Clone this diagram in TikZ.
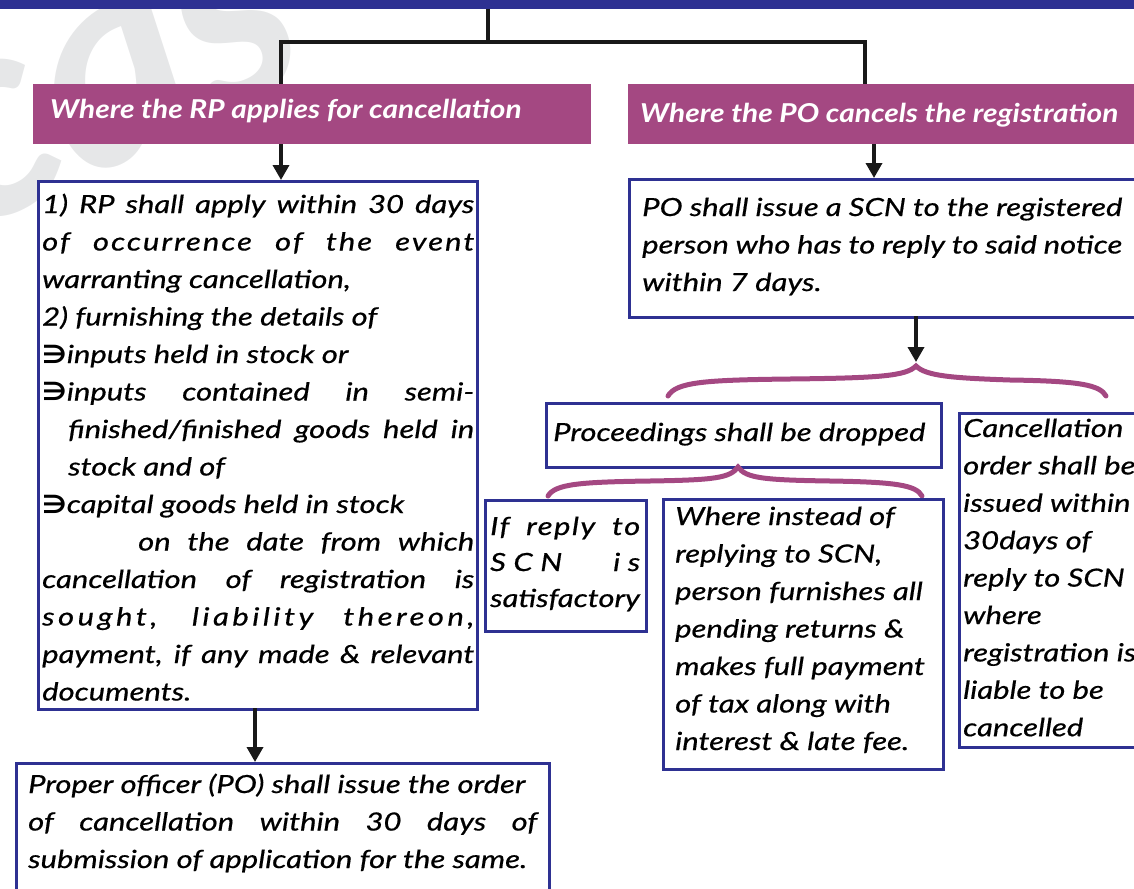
\documentclass[tikz,border=0pt]{standalone}
\usepackage{fontspec}
\setmainfont{Lato}[FakeStretch=1.24, FakeBold=0.6]
\newfontfamily\hdrfam{Lato}[FakeStretch=1.15]
\newfontfamily\wmfam{Lato}
\newfontfamily\symfnt{DejaVu Sans}[FakeStretch=1.1]
\usetikzlibrary{arrows.meta}
\definecolor{topblue}{RGB}{46,49,146}
\definecolor{plum}{RGB}{164,72,130}
\definecolor{wmgray}{RGB}{230,231,232}
\newcommand\bfnt{\fontsize{25}{37.5}\selectfont\itshape}
\newcommand\hfnt{\hdrfam\fontsize{26}{30}\selectfont\bfseries\itshape}
\newcommand\bul{{\symfnt\bfseries ∋}}
\newcommand\jl[1]{\makebox[\linewidth][s]{#1}}
\newcommand\lsp[2]{{\addfontfeature{LetterSpace=#1}#2}}
\tikzset{
  bx/.style={draw=topblue, line width=3pt, fill=white, inner sep=0pt, anchor=north west},
  hdr/.style={fill=plum, inner sep=0pt, anchor=north west},
  txt/.style={anchor=base west, inner sep=0pt},
  htxt/.style={anchor=base west, inner sep=0pt, text=white, font=\hfnt},
  link/.style={line width=3.5pt, black!90},
  arr/.style={link, -{Triangle[width=16pt,length=15pt]}},
  brc/.style={plum, line width=5pt, line cap=round},
}
\begin{document}
\begin{tikzpicture}[x=1pt,y=-1pt]
\useasboundingbox (0,0) rectangle (1134,888);
\clip (0,0) rectangle (1134,888);
% watermark
\node[text=wmgray, font=\wmfam\fontsize{285}{285}\selectfont\bfseries\itshape, rotate=25, anchor=base west, inner sep=0pt] (wm) at (-35,235) {cas};
% top bar
\fill[topblue] (0,0) rectangle (1134,9);
% top connectors
\coordinate (top) at (488,9);
\coordinate (tj) at (488,42);
\coordinate (jl) at (281,84);
\coordinate (jr) at (865,84);
\draw[link] (top) -- (tj);
\draw[link] (jl) |- (tj) -| (jr);
% headers
\node[hdr, minimum width=558pt, minimum height=60pt] (rphdr) at (33,84) {};
\node[htxt] (rphdrt) at (50,118) {Where the RP applies for cancellation};
\node[hdr, minimum width=512pt, minimum height=60pt] (pohdr) at (628,84) {};
\node[htxt] (pohdrt) at (640,123) {Where the PO cancels the registration};
% left column
\node[bx, minimum width=439pt, minimum height=528pt] (rpbox) at (37,180) {};
\node[txt] (rptext) at (42,213) {\parbox[t]{432pt}{\bfnt
\jl{1) RP shall apply within 30 days}\\
\lsp{8}{\jl{of occurrence of the event}}\\
warranting cancellation,\\
2) furnishing the details of\\
\bul inputs held in stock or\\
\jl{\bul inputs contained in semi-}\\
\hspace*{26pt}\makebox[\dimexpr\linewidth-26pt][s]{finished/finished goods held in}\\
\hspace*{26pt}stock and of\\
\bul capital goods held in stock\\
\hspace*{96pt}\makebox[\dimexpr\linewidth-96pt][s]{on the date from which}\\
\jl{cancellation of registration is}\\
\lsp{14}{\jl{sought, liability thereon,}}\\
\jl{payment, if any made \& relevant}\\
documents.}};
\node[bx, minimum width=533pt, minimum height=140pt] (pobox) at (15,762) {};
\node[txt] (potext) at (28,793) {\parbox[t]{509pt}{\bfnt
Proper officer (PO) shall issue the order\\
\jl{of cancellation within 30 days of}\\
submission of application for the same.}};
\coordinate (ra) at (281,144);
\coordinate (rb) at (281,180);
\draw[arr] (ra) -- (rb);
\coordinate (la) at (255,708);
\coordinate (lb) at (255,762);
\draw[arr] (la) -- (lb);
% right column
\node[bx, minimum width=512pt, minimum height=138pt] (scnbox) at (628,178) {};
\node[txt] (scntext) at (642,216) {\parbox[t]{480pt}{\bfnt
PO shall issue a SCN to the registered\\
person who has to reply to said notice\\
within 7 days.}};
\coordinate (pa) at (874,144);
\coordinate (pb) at (874,178);
\draw[arr] (pa) -- (pb);
\coordinate (sa) at (916,316);
\coordinate (sb) at (916,362);
\draw[arr] (sa) -- (sb);
% brace 1
\draw[brc] (668,396) .. controls (676,382) and (705,380) .. (790,379)
  .. controls (880,378) and (906,376) .. (916,366)
  .. controls (926,376) and (952,378) .. (1010,380)
  .. controls (1080,381) and (1100,385) .. (1106,396);
\node[bx, minimum width=395pt, minimum height=64pt] (dropbox) at (545,402) {};
\node[txt] (droptext) at (553,441) {\bfnt Proceedings shall be dropped};
\node[bx, minimum width=182pt, minimum height=334pt] (cancbox) at (958,412) {};
\node[txt] (canctext) at (963,437) {\parbox[t]{240pt}{\fontsize{25}{37.4}\selectfont\itshape
Cancellation\\
order shall be\\
issued within\\
30days of\\
reply to SCN\\
where\\
registration is\\
liable to be\\
cancelled}};
% brace 2
\draw[brc] (548,496) .. controls (555,484) and (580,482) .. (650,481)
  .. controls (715,480) and (730,478) .. (738,467)
  .. controls (746,478) and (762,480) .. (830,481)
  .. controls (895,482) and (916,485) .. (922,496);
\node[bx, minimum width=161pt, minimum height=131pt] (satbox) at (484,499) {};
\node[txt] (sattext) at (490,535) {\parbox[t]{150pt}{\fontsize{25}{36}\selectfont\itshape
\lsp{6}{\jl{If reply to}}\\
\lsp{30}{\jl{SCN is}}\\
satisfactory}};
\node[bx, minimum width=280pt, minimum height=270pt] (furnbox) at (662,498) {};
\node[txt] (furntext) at (675,525) {\parbox[t]{265pt}{\bfnt
Where instead of\\
replying to SCN,\\
person furnishes all\\
pending returns \&\\
makes full payment\\
of tax along with\\
interest \& late fee.}};
\end{tikzpicture}
\end{document}
